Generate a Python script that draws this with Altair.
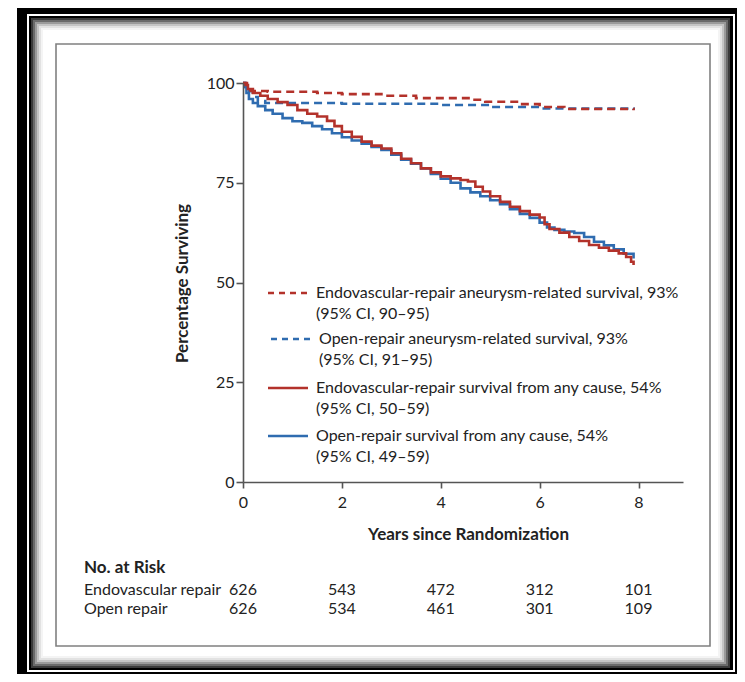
import altair as alt
import pandas as pd

# ---------------- data ----------------
series_names = [
    "Endovascular repair, aneurysm-related",
    "Open repair, aneurysm-related",
    "Endovascular repair, any cause",
    "Open repair, any cause",
]

endo_aneurysm_t = [0, 0.08, 0.15, 0.5, 1.5, 2.0, 2.8, 3.5, 4.6, 4.9, 5.6, 6.0, 6.5, 7.9]
endo_aneurysm_p = [100, 99, 98, 97.8, 97.5, 97.2, 96.8, 96.2, 95.8, 95.3, 94.7, 94.0, 93.5, 93.2]

open_aneurysm_t = [0, 0.05, 0.1, 0.2, 0.3, 0.45, 2.0, 4.0, 5.0, 6.0, 7.9]
open_aneurysm_p = [100, 99, 98, 96.5, 95.5, 95.0, 94.8, 94.5, 94.0, 93.6, 93.3]

endo_any_t = [0, 0.05, 0.1, 0.2, 0.35, 0.5, 0.7, 0.9, 1.1, 1.3, 1.5, 1.7, 1.85, 2.0, 2.2,
              2.4, 2.6, 2.8, 3.0, 3.2, 3.4, 3.6, 3.8, 4.0, 4.2, 4.4, 4.55, 4.7, 4.85, 5.0,
              5.2, 5.4, 5.6, 5.8, 6.0, 6.1, 6.2, 6.4, 6.6, 6.8, 7.0, 7.2, 7.4, 7.6, 7.75,
              7.85, 7.9]
endo_any_p = [100, 99.5, 98.5, 97.5, 96.8, 96.0, 95.2, 94.5, 93.2, 92.3, 91.6, 90.5, 89.2,
              87.8, 86.5, 85.3, 84.3, 83.6, 82.4, 81.0, 79.9, 78.6, 77.6, 76.6, 76.1, 75.7,
              75.3, 74.0, 72.8, 71.6, 70.2, 69.0, 67.9, 67.0, 66.3, 64.6, 63.4, 62.5, 61.4,
              60.4, 59.4, 58.7, 58.0, 57.3, 56.4, 55.2, 54.4]

open_any_t = [0, 0.03, 0.07, 0.12, 0.2, 0.3, 0.45, 0.6, 0.8, 1.0, 1.2, 1.4, 1.6, 1.8, 2.0,
              2.2, 2.4, 2.6, 2.8, 3.0, 3.2, 3.4, 3.6, 3.8, 4.0, 4.2, 4.4, 4.6, 4.8, 5.0,
              5.2, 5.4, 5.6, 5.8, 6.0, 6.15, 6.3, 6.5, 6.7, 6.9, 7.1, 7.3, 7.5, 7.7, 7.9]
open_any_p = [100, 99, 97.5, 96, 95, 94.2, 93.2, 92.3, 91.2, 90.4, 90.0, 89.2, 88.4, 87.4,
              86.4, 85.6, 84.8, 84.0, 83.2, 82.0, 80.8, 79.8, 78.6, 77.2, 76.0, 75.0, 73.6,
              72.6, 71.6, 70.6, 69.6, 68.4, 67.2, 66.2, 65.0, 63.8, 63.2, 62.8, 62.4, 61.4,
              60.2, 59.3, 58.3, 57.2, 56.0]

legend_line1 = [
    "Endovascular-repair aneurysm-related survival, 93%",
    "Open-repair aneurysm-related survival, 93%",
    "Endovascular-repair survival from any cause, 54%",
    "Open-repair survival from any cause, 54%",
]
legend_line2 = ["(95% CI, 90\u201395)", "(95% CI, 91\u201395)", "(95% CI, 50\u201359)", "(95% CI, 49\u201359)"]

x_ticks = [0, 2, 4, 6, 8]
y_ticks = [0, 25, 50, 75, 100]

risk_years = [0, 2, 4, 6, 8]
risk_endo = [626, 543, 472, 312, 101]
risk_open = [626, 534, 461, 301, 109]
risk_groups = ["Endovascular repair", "Open repair"]

# ---------------- styling ----------------
FONT = "Lato"
FS = 16
TFS = 17
RED = "#b3322b"
BLUE = "#2f6cb0"
TXT = "#222222"
AX = "#555555"
OX, OY = 243, 83          # plot origin on the page
W, H = 440, 399

series_colors = [RED, BLUE, RED, BLUE]
series_dash = [[8, 5], [8, 5], [1, 0], [1, 0]]

one = pd.DataFrame({"k": [0]})


def rect(x1, y1, x2, y2, fill, stroke=None, sw=0):
    kw = {"fill": fill}
    if stroke:
        kw.update(stroke=stroke, strokeWidth=sw)
    else:
        kw.update(strokeWidth=0)
    return alt.Chart(one).mark_rect(**kw).encode(
        x=alt.value(x1 - OX), x2=alt.value(x2 - OX),
        y=alt.value(y1 - OY), y2=alt.value(y2 - OY))


layers = []
# picture frame
layers.append(rect(17, 8, 737, 674, "black"))
layers.append(rect(27, 14, 735, 672, "white"))
layers.append(rect(29, 16, 733, 670, "black"))
shades = ["#3a3a3a", "#6a6a6a", "#9a9a9a", "#c4c4c4", "#e2e2e2", "#f4f4f4", "white"]
for i, c in enumerate(shades):
    d = 2 * i
    layers.append(rect(31 + d, 18 + d, 730 - d, 668 - d, c))
# inner panel
layers.append(rect(56, 44, 710, 646, "white", "#808080", 1.6))

# curves
rows = []
for name, ts, ps in [
    (series_names[1], open_aneurysm_t, open_aneurysm_p),
    (series_names[0], endo_aneurysm_t, endo_aneurysm_p),
    (series_names[3], open_any_t, open_any_p),
    (series_names[2], endo_any_t, endo_any_p),
]:
    for t, p in zip(ts, ps):
        rows.append({"series": name, "t": t, "pct": p})
curves = pd.DataFrame(rows)

lines = alt.Chart(curves).mark_line(strokeWidth=2.6, interpolate="step-after").encode(
    x=alt.X("t:Q", scale=alt.Scale(domain=[0, 8.9], nice=False, zero=True),
            axis=alt.Axis(values=x_ticks, title="Years since Randomization", grid=False,
                          zindex=1, domainColor=AX, domainWidth=1.6, tickColor=AX, tickWidth=1.6,
                          tickSize=6, labelPadding=6, labelFont=FONT, labelFontSize=FS,
                          labelColor=TXT, titleFont=FONT, titleFontSize=TFS, titleFontWeight="bold",
                          titleColor=TXT, titleX=225, titleY=52, titleBaseline="middle",
                          titleAnchor="start", titleAlign="center", labelFlush=False)),
    y=alt.Y("pct:Q", scale=alt.Scale(domain=[0, 100], nice=False),
            axis=alt.Axis(values=y_ticks, title="Percentage Surviving", grid=False, zindex=1,
                          domainColor=AX, domainWidth=1.6, tickColor=AX, tickWidth=1.6,
                          tickSize=7, labelPadding=2, labelFont=FONT, labelFontSize=FS,
                          labelColor=TXT, titleFont=FONT, titleFontSize=TFS, titleFontWeight="bold",
                          titleColor=TXT, titleX=-61, titleY=200, titleBaseline="middle",
                          titleAlign="center", titleAnchor="start", labelFlush=False)),
    color=alt.Color("series:N", scale=alt.Scale(domain=series_names, range=series_colors), legend=None),
    strokeDash=alt.StrokeDash("series:N", scale=alt.Scale(domain=series_names, range=series_dash), legend=None),
    detail="series:N",
)
layers.append(lines)

# legend (drawn by hand, two-line labels)
leg_y = [293, 339, 388, 436]
leg_x0 = [268, 271, 268, 268]
leg_x1 = [308, 310, 308, 308]
leg_tx = [316, 319, 316, 316]
leg_dash = [[6, 5], [6, 5], [1, 0], [1, 0]]
for i in range(4):
    layers.append(alt.Chart(one).mark_rule(color=series_colors[i], strokeWidth=2.6,
                                           strokeDash=leg_dash[i]).encode(
        x=alt.value(leg_x0[i] - OX), x2=alt.value(leg_x1[i] - OX), y=alt.value(leg_y[i] - OY)))
    for j, txt in enumerate([legend_line1[i], legend_line2[i]]):
        layers.append(alt.Chart(pd.DataFrame({"label": [txt]})).mark_text(
            font=FONT, fontSize=FS, color=TXT, align="left", baseline="middle").encode(
            text="label:N", x=alt.value(leg_tx[i] - OX), y=alt.value(leg_y[i] - OY + 21 * j)))

# number at risk table
layers.append(alt.Chart(pd.DataFrame({"label": ["No. at Risk"]})).mark_text(
    font=FONT, fontSize=TFS, fontWeight="bold", color=TXT, align="left", baseline="middle").encode(
    text="label:N", x=alt.value(84 - OX), y=alt.value(568 - OY)))
for g, vals, yy in [(risk_groups[0], risk_endo, 590), (risk_groups[1], risk_open, 609)]:
    layers.append(alt.Chart(pd.DataFrame({"label": [g]})).mark_text(
        font=FONT, fontSize=FS, color=TXT, align="left", baseline="middle").encode(
        text="label:N", x=alt.value(84 - OX), y=alt.value(yy - OY)))
    layers.append(alt.Chart(pd.DataFrame({"t": risk_years, "n": vals})).mark_text(
        font=FONT, fontSize=FS, color=TXT, align="center", baseline="middle").encode(
        x=alt.X("t:Q"), text="n:Q", y=alt.value(yy - OY)))

chart = alt.layer(*layers).properties(
    width=W, height=H,
    autosize=alt.AutoSizeParams(type="none"),
    padding={"left": OX - 8, "top": OY - 8, "right": 729 - (OX - 8) - W, "bottom": 666 - (OY - 8) - H},
    background="white",
).configure_view(stroke=None)

chart.save("out.html", embed_options={"renderer": "svg", "actions": False})
